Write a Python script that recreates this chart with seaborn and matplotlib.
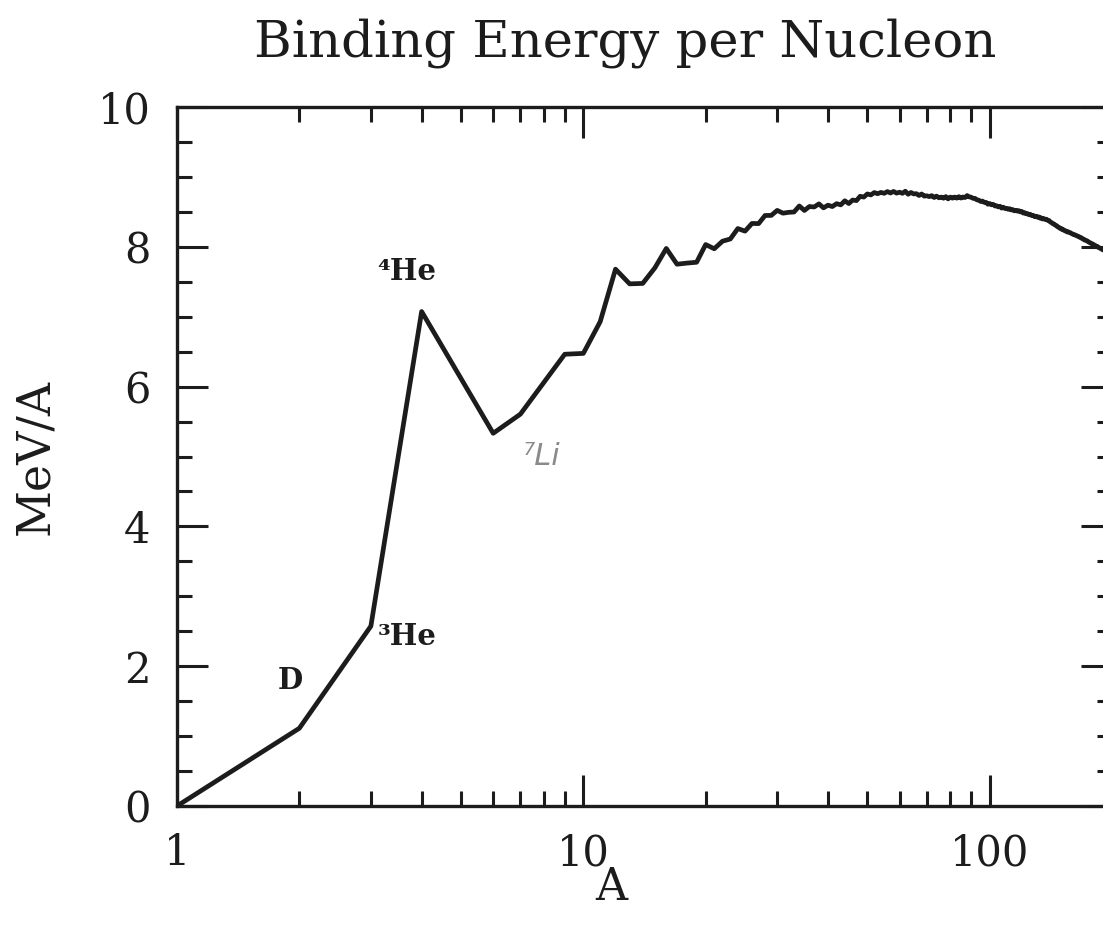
import numpy as np
import pandas as pd
import matplotlib
matplotlib.use("Agg")
import matplotlib.pyplot as plt
import seaborn as sns
from matplotlib.ticker import FixedLocator, NullFormatter, FixedFormatter

# ---- data: binding energy per nucleon (MeV) of the most bound nuclide at each A
mass_number = [1, 2, 3, 4, 6, 7] + list(range(9, 201))
binding_energy = [
    0.000, 1.112, 2.573, 7.074, 5.332, 5.606,
    # 9 - 20
    6.463, 6.475, 6.928, 7.680, 7.470, 7.476, 7.699, 7.976, 7.751, 7.767, 7.779, 8.032,
    # 21 - 40
    7.972, 8.080, 8.112, 8.261, 8.224, 8.334, 8.332, 8.448, 8.449, 8.521,
    8.481, 8.493, 8.498, 8.584, 8.520, 8.576, 8.570, 8.614, 8.557, 8.595,
    # 41 - 60
    8.576, 8.617, 8.600, 8.658, 8.619, 8.669, 8.661, 8.723, 8.711, 8.756,
    8.742, 8.776, 8.760, 8.778, 8.765, 8.790, 8.770, 8.792, 8.768, 8.781,
    # 61 - 80
    8.765, 8.795, 8.752, 8.777, 8.757, 8.760, 8.734, 8.756, 8.725, 8.730,
    8.718, 8.732, 8.705, 8.725, 8.701, 8.711, 8.695, 8.718, 8.686, 8.711,
    # 81 - 100
    8.696, 8.711, 8.696, 8.718, 8.697, 8.712, 8.705, 8.733, 8.714, 8.710,
    8.693, 8.693, 8.672, 8.667, 8.649, 8.654, 8.635, 8.635, 8.609, 8.619,
    # 101 - 120
    8.601, 8.607, 8.584, 8.587, 8.571, 8.580, 8.554, 8.567, 8.548, 8.551,
    8.537, 8.545, 8.527, 8.532, 8.514, 8.523, 8.510, 8.517, 8.499, 8.505,
    # 121 - 140
    8.482, 8.488, 8.472, 8.474, 8.458, 8.463, 8.446, 8.449, 8.431, 8.438,
    8.424, 8.428, 8.410, 8.414, 8.398, 8.403, 8.392, 8.394, 8.378, 8.376,
    # 141 - 160
    8.354, 8.347, 8.330, 8.327, 8.309, 8.304, 8.284, 8.280, 8.263, 8.262,
    8.244, 8.244, 8.229, 8.227, 8.213, 8.215, 8.204, 8.202, 8.189, 8.184,
    # 161 - 180
    8.173, 8.173, 8.162, 8.159, 8.147, 8.145, 8.132, 8.130, 8.115, 8.112,
    8.098, 8.097, 8.087, 8.084, 8.069, 8.064, 8.052, 8.050, 8.039, 8.035,
    # 181 - 200
    8.023, 8.018, 8.008, 8.006, 7.991, 7.987, 7.978, 7.974, 7.963, 7.963,
    7.948, 7.948, 7.938, 7.936, 7.927, 7.923, 7.916, 7.912, 7.905, 7.906,
]

x_tick_values = [1, 10, 100]
x_tick_labels = ["1", "10", "100"]
y_tick_values = [0, 2, 4, 6, 8, 10]
y_tick_labels = ["0", "2", "4", "6", "8", "10"]

annotation_texts = ["\u2074He", "\u00b3He", "D"]
annotation_x = [3.67, 3.69, 1.9]
annotation_y = [7.64, 2.43, 1.80]

df = pd.DataFrame({"A": mass_number, "BA": binding_energy})

sns.set_style("ticks")
plt.rcParams["font.family"] = ["DejaVu Serif", "DejaVu Sans"]

W, H = 1103, 930
fig = plt.figure(figsize=(W / 100, H / 100), dpi=100)
fig.patch.set_facecolor("white")
ax = fig.add_axes([177 / W, (H - 806) / H, (1112 - 177) / W, (806 - 107) / H])

sns.lineplot(data=df, x="A", y="BA", ax=ax, color="#1c1c1c", linewidth=3.4,
             estimator=None, sort=False)

ax.set_xscale("log")
ax.set_xlim(1, 200)
ax.set_ylim(0, 10)

ax.xaxis.set_major_locator(FixedLocator(x_tick_values))
ax.xaxis.set_major_formatter(FixedFormatter(x_tick_labels))
minor_x = [m * d for d in (1, 10, 100) for m in range(2, 10) if m * d <= 200]
ax.xaxis.set_minor_locator(FixedLocator(minor_x))
ax.xaxis.set_minor_formatter(NullFormatter())

ax.yaxis.set_major_locator(FixedLocator(y_tick_values))
ax.yaxis.set_major_formatter(FixedFormatter(y_tick_labels))
ax.yaxis.set_minor_locator(FixedLocator(np.arange(0, 10.01, 0.5)))

for s in ax.spines.values():
    s.set_visible(True)
    s.set_linewidth(2.4)
    s.set_color("#1c1c1c")

ax.tick_params(which="both", direction="in", top=True, right=True,
               color="#1c1c1c", width=2.2)
ax.tick_params(which="major", length=22, labelsize=30, pad=19,
               labelcolor="#1c1c1c")
ax.tick_params(which="minor", length=11)

ax.set_xlabel("A", fontsize=32, color="#1c1c1c")
ax.xaxis.label.set_va("center")
ax.xaxis.set_label_coords((611 - 177) / 935, (806 - 887) / 699)
ax.set_ylabel("MeV/A", fontsize=33, color="#1c1c1c")
ax.yaxis.label.set_va("center")
ax.yaxis.set_label_coords((36 - 177) / 935, 0.5)

for t, xv, yv in zip(annotation_texts, annotation_x, annotation_y):
    ax.text(xv, yv, t, fontsize=21, fontweight="bold", ha="center",
            va="center", color="#1c1c1c")

ax.text(7.9, 5.0, "\u2077Li", fontsize=22, color="#8a8a8a", ha="center",
        va="center", family="DejaVu Sans", fontweight="light", style="italic")

title = fig.text(625 / W, 1 - 56 / H, "Binding Energy per Nucleon",
                 fontsize=30, ha="center", va="baseline", color="#1c1c1c")
fig.canvas.draw()
bb = title.get_window_extent()
title.set_fontsize(30 * 744 / bb.width)

fig.savefig("out.png", dpi=100, facecolor="white")
